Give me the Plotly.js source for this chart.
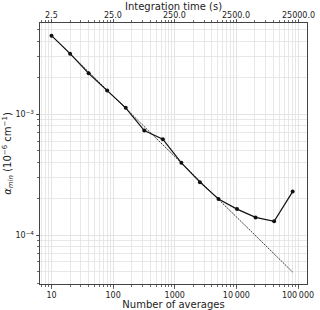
<!DOCTYPE html>
<html><head><meta charset="utf-8">
<script src="https://cdn.plot.ly/plotly-3.0.1.min.js"></script>
<style>html,body{margin:0;padding:0;background:#fff}#c{width:320px;height:310px}</style>
</head><body><div id="c"></div>
<script>
const nAvg = [10, 20, 40, 80, 160, 320, 640, 1280, 2560, 5120, 10240, 20480, 40960, 81920];
const alphaMin = [4.47e-3, 3.17e-3, 2.18e-3, 1.57e-3, 1.13e-3, 7.32e-4, 6.21e-4, 3.96e-4, 2.74e-4, 1.99e-4, 1.64e-4, 1.40e-4, 1.30e-4, 2.29e-4];
const refN = [10, 81920];
const refAlpha = [4.47e-3, 4.94e-5];
const xTickVals = [10, 100, 1000, 10000, 100000];
const xTickText = ['10', '100', '1000', '10\u2009000', '100\u2009000'];
const topTickText = ['2.5', '25.0', '250.0', '2500.0', '25000.0'];
const yTickVals = [1e-4, 1e-3];
const yTickText = ['10<sup>\u22124</sup>', '10<sup>\u22123</sup>'];

const font = {family: 'DejaVu Sans', size: 8, color: '#222'};
const titleFont = {family: 'DejaVu Sans', size: 10, color: '#222'};
const grid = '#e2e2e2';

const data = [
  {x: refN, y: refAlpha, mode: 'lines', line: {color: '#222', width: 0.9, dash: '2px,1px'}, hoverinfo: 'skip', showlegend: false},
  {x: nAvg, y: alphaMin, mode: 'lines+markers', line: {color: '#111', width: 1.2}, marker: {color: '#111', size: 4}, showlegend: false}
];
const annotations = topTickText.map((t, i) => ({
  text: t, xref: 'x', yref: 'paper', x: Math.log10(xTickVals[i]), y: 1, yshift: 2, borderpad: 0,
  xanchor: 'center', yanchor: 'bottom', showarrow: false, font: font
}));
annotations.push({text: 'Integration time (s)', xref: 'paper', yref: 'paper', x: 0.5, y: 1, yshift: 17, borderpad: 0,
  xanchor: 'center', yanchor: 'middle', showarrow: false, font: titleFont});

const layout = {
  width: 320, height: 310,
  margin: {l: 40, r: 13, t: 23, b: 26},
  paper_bgcolor: '#fff', plot_bgcolor: '#fff',
  font: font,
  xaxis: {
    type: 'log', range: [Math.log10(6.5), Math.log10(140000)],
    showline: true, linecolor: '#444', linewidth: 1, mirror: 'ticks',
    ticks: 'outside', ticklen: 3.5, tickcolor: '#444', tickwidth: 0.8,
    showgrid: true, gridcolor: grid, gridwidth: 0.8, zeroline: false,
    tickmode: 'array', tickvals: xTickVals, ticktext: xTickText,
    minor: {dtick: 'D1', ticks: 'outside', ticklen: 2, tickcolor: '#444', showgrid: true, gridcolor: grid, gridwidth: 0.8},
    tickfont: font,
    title: {text: 'Number of averages', font: titleFont, standoff: 2}
  },
  yaxis: {
    type: 'log', range: [-4.405, -2.245], showline: true, linecolor: '#444', linewidth: 1, mirror: true,
    ticks: 'outside', ticklen: 3.5, tickcolor: '#444', tickwidth: 0.8,
    showgrid: true, gridcolor: grid, gridwidth: 0.8, zeroline: false,
    tickmode: 'array', tickvals: yTickVals, ticktext: yTickText,
    minor: {dtick: 'D1', ticks: 'outside', ticklen: 2, tickcolor: '#444', showgrid: true, gridcolor: grid, gridwidth: 0.8},
    tickfont: font,
    title: {text: '<i>α</i><sub><i>min</i></sub> (10<sup>\u22126</sup> cm<sup>\u22121</sup>)', font: titleFont, standoff: 0}
  },
  annotations: annotations
};
Plotly.newPlot('c', data, layout, {staticPlot: true, displayModeBar: false});
</script></body></html>
